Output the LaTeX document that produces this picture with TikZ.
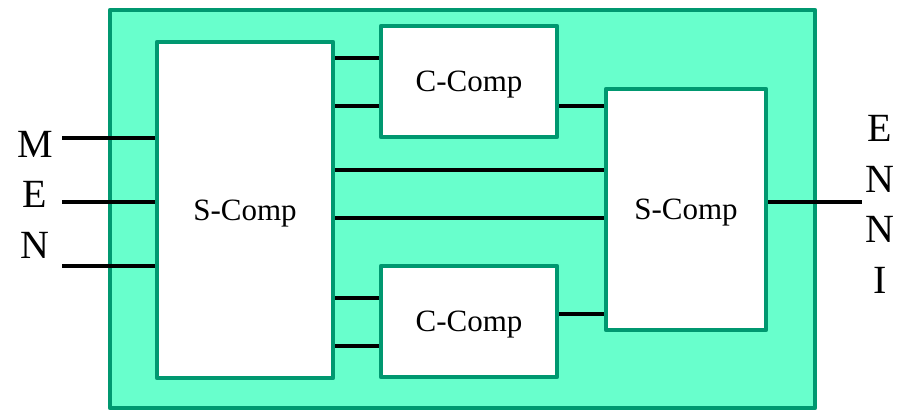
\documentclass[tikz,border=0pt]{standalone}
\usepackage{fontspec}
\setmainfont{Liberation Serif}
\usetikzlibrary{positioning}
\definecolor{boxgreen}{RGB}{104,255,204}
\definecolor{edgegreen}{RGB}{0,152,112}
\begin{document}
\begin{tikzpicture}[
  x=1pt, y=-1pt,
  wire/.style = {draw=black, line width=4.4pt},
  every node/.style = {inner sep=0pt}]
  \tikzstyle{comp}=[shape=rectangle, draw=edgegreen, line width=4.4pt,
    line join=round, fill=white, text depth=0pt, font=\fontsize{31}{36}\selectfont]
  \tikzstyle{pin}=[font=\fontsize{40}{48}\selectfont, anchor=base]
  \useasboundingbox (0,0) rectangle (902,410);
  % frame and components
  \node[comp, fill=boxgreen, minimum width=705pt, minimum height=398pt] (frame) at (462.5,209) {};
  \node[comp, minimum width=176pt, minimum height=336pt] (sl) at (245,210) {S-Comp};
  \node[comp, minimum width=176pt, minimum height=111pt] (ct) at (469,81.5) {C-Comp};
  \node[comp, minimum width=176pt, minimum height=111pt] (cb) at (469,321.5) {C-Comp};
  \node[comp, minimum width=160pt, minimum height=241pt] (sr) at (686,209.5) {S-Comp};
  % inputs
  \coordinate (in1) at (62,138);
  \coordinate (in2) at (62,202);
  \coordinate (in3) at (62,266);
  \draw[wire] (in1) -- (sl.west |- in1);
  \draw[wire] (in2) -- (sl.west |- in2);
  \draw[wire] (in3) -- (sl.west |- in3);
  \node[pin] (lm) at (35,157) {M};
  \node[pin] (le) at (35,207) {E};
  \node[pin] (ln) at (35,258) {N};
  % internal wires
  \draw[wire] (sl.east |- 0,58) -- (ct.west |- 0,58);
  \draw[wire] (sl.east |- 0,106) -- (ct.west |- 0,106);
  \draw[wire] (sl.east |- 0,170) -- (sr.west |- 0,170);
  \draw[wire] (sl.east |- 0,218) -- (sr.west |- 0,218);
  \draw[wire] (sl.east |- 0,298) -- (cb.west |- 0,298);
  \draw[wire] (sl.east |- 0,346) -- (cb.west |- 0,346);
  \draw[wire] (ct.east |- 0,106) -- (sr.west |- 0,106);
  \draw[wire] (cb.east |- 0,314) -- (sr.west |- 0,314);
  % output
  \coordinate (out) at (862,202);
  \draw[wire] (sr.east |- out) -- (out);
  \node[pin] (re) at (880,141) {E};
  \node[pin] (rn1) at (880,192) {N};
  \node[pin] (rn2) at (880,242) {N};
  \node[pin] (ri) at (880,293) {I};
\end{tikzpicture}
\end{document}
